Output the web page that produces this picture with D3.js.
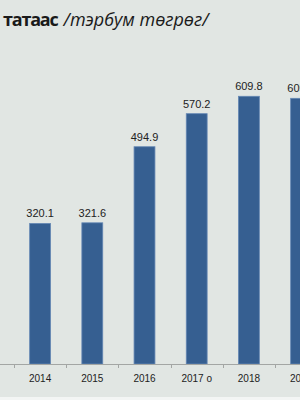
<!DOCTYPE html>
<html>
<head>
<meta charset="utf-8">
<style>
  body { margin: 0; background: #fff; }
  svg { display: block; }
  .bar { fill: #365f91; stroke: #6487b4; stroke-width: 0.8; }
  .val { font-family: "Liberation Sans", Arial, sans-serif; font-size: 11px; fill: #222; text-anchor: middle; }
  .tick-lbl { font-family: "Liberation Sans", Arial, sans-serif; font-size: 10px; fill: #222; text-anchor: middle; }
</style>
</head>
<body>
<svg width="300" height="400"></svg>
<script src="https://d3js.org/d3.v7.min.js"></script>
<script>
// values (billion tugrik)
var years  = ["2014", "2015", "2016", "2017 о", "2018", "2019"];
var values = [320.1, 321.6, 494.9, 570.2, 609.8, 605.2];
var yTicks = [0, 100, 200, 300, 400, 500, 600, 700];

var W = 300, H = 400;
var baseY = 364;

var svg = d3.select("svg");

// background
svg.append("rect").attr("width", W).attr("height", H).attr("fill", "#e1e6e3");
svg.append("rect").attr("y", 397).attr("width", W).attr("height", 3).attr("fill", "#f3f5f4");

// title (cut at left edge as in the picture)
var title = svg.append("text")
    .attr("x", 3).attr("y", 26)
    .style("font-family", "'Open Sans', 'DejaVu Sans', sans-serif")
    .style("font-size", "18px")
    .style("fill", "#1a1a1a");
title.append("tspan").style("font-weight", "bold").style("letter-spacing", "-1.2px").text("татаас");
title.append("tspan").attr("dx", 6).style("font-style", "italic").text("/тэрбум төгрөг/");

var x = d3.scaleBand()
    .domain(years)
    .range([14, 14 + 6 * 52.2])
    .paddingInner(0.6)
    .paddingOuter(0.3);

var y = d3.scaleLinear()
    .domain([0, d3.max(yTicks)])
    .range([baseY, baseY - 700 * 0.439]);

var data = years.map(function(d, i) { return {year: d, value: values[i]}; });

// bars
svg.selectAll("rect.bar")
  .data(data)
  .enter().append("rect")
  .attr("class", "bar")
  .attr("x", function(d) { return x(d.year); })
  .attr("width", x.bandwidth())
  .attr("y", function(d) { return y(d.value); })
  .attr("height", function(d) { return baseY - y(d.value); });

// value labels
svg.selectAll("text.val")
  .data(data)
  .enter().append("text")
  .attr("class", "val")
  .attr("x", function(d) { return x(d.year) + x.bandwidth() / 2; })
  .attr("y", function(d) { return y(d.value) - 6; })
  .text(function(d) { return d.value.toFixed(1); });

// x axis line + ticks at band boundaries
svg.append("line")
  .attr("x1", 0).attr("x2", W)
  .attr("y1", baseY + 0.5).attr("y2", baseY + 0.5)
  .attr("stroke", "#a3a6a4").attr("stroke-width", 1);

var bounds = years.map(function(d) { return x(d) - x.step() * x.paddingOuter(); });
svg.selectAll("line.tk")
  .data(bounds)
  .enter().append("line")
  .attr("class", "tk")
  .attr("x1", function(d) { return Math.round(d) + 0.5; })
  .attr("x2", function(d) { return Math.round(d) + 0.5; })
  .attr("y1", baseY).attr("y2", baseY + 4)
  .attr("stroke", "#a3a6a4");

svg.selectAll("text.tick-lbl")
  .data(years)
  .enter().append("text")
  .attr("class", "tick-lbl")
  .attr("x", function(d) { return x(d) + x.bandwidth() / 2; })
  .attr("y", 382)
  .text(function(d) { return d; });
</script>
</body>
</html>
